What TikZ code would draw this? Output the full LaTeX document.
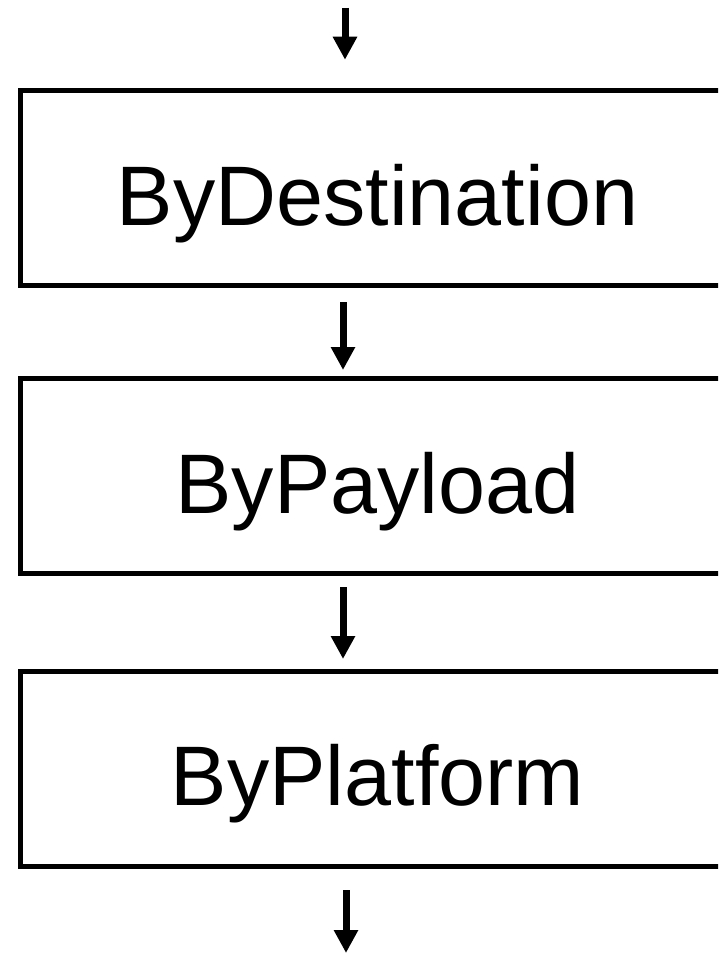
\documentclass[tikz,border=0pt]{standalone}
\usepackage{fontspec}
\setmainfont{Liberation Sans}
\usetikzlibrary{arrows.meta,calc}
\begin{document}
\begin{tikzpicture}[x=1pt,y=-1pt,
  stagebox/.style={draw=black, line width=5pt, rectangle, outer sep=0pt,
    minimum width=715pt, minimum height=195pt, inner sep=0pt,
    text height=94.5pt, text depth=20pt,
    font=\fontsize{84.5}{90}\selectfont},
  arr/.style={line width=7pt, -{Triangle[width=23pt,length=23pt]}}]
\clip (0,0) rectangle (718,955);
\useasboundingbox (0,0) rectangle (718,955);
\node[stagebox] (b1) at (377.5,187.75) {ByDestination};
\node[stagebox] (b2) at (377.5,476) {ByPayload};
\node[stagebox] (b3) at (377.5,768.5) {ByPlatform};
\coordinate (in) at (345,8);
\coordinate (out) at (346,953);
\draw[arr] (in) -- ($(b1.north)+(-32.5,-30.5)$);
\draw[arr] ($(b1.south)+(-34.5,17)$) -- ($(b2.north)+(-34.5,-8.5)$);
\draw[arr] ($(b2.south)+(-34.5,13.5)$) -- ($(b3.north)+(-34.5,-12)$);
\draw[arr] ($(b3.south)+(-31.5,24)$) -- (out);
\end{tikzpicture}
\end{document}
